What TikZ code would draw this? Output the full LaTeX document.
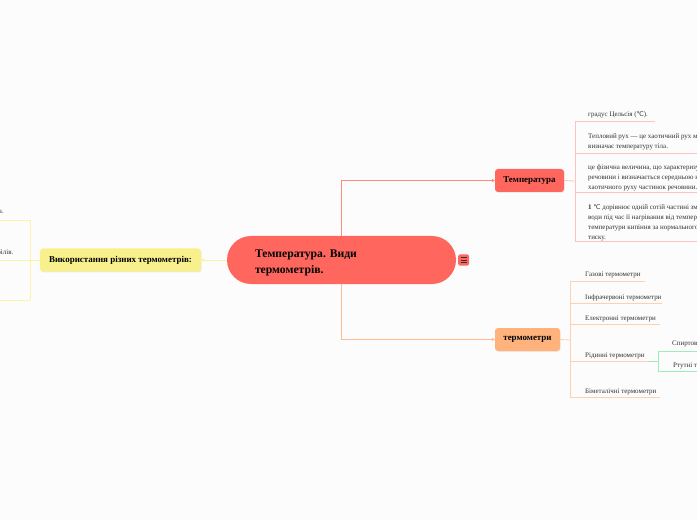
\documentclass[tikz,border=0pt]{standalone}
\usepackage{fontspec}
\setmainfont{Liberation Serif}
\newfontfamily\symfont{DejaVu Sans}
\newcommand{\degC}{{\symfont\fontsize{6.5}{10}\selectfont ℃}}
\usetikzlibrary{shadows,arrows.meta,calc}
\definecolor{bg}{HTML}{FCFCFC}
\definecolor{cred}{HTML}{FF675E}
\definecolor{corange}{HTML}{FFB27C}
\definecolor{cyellow}{HTML}{F8F08C}
\definecolor{lred}{HTML}{FF8A84}
\definecolor{lpink}{HTML}{FFC2BE}
\definecolor{lorange}{HTML}{FFD1AE}
\definecolor{morange}{HTML}{FFBC8E}
\definecolor{lyellow}{HTML}{FAF4A6}
\definecolor{lgreen}{HTML}{9CEDBE}
\definecolor{txt}{HTML}{333333}
\tikzset{
  shad/.style={drop shadow={opacity=0.12,shadow xshift=0.6pt,shadow yshift=-1pt}},
  centre/.style={fill=cred,rounded corners=24bp,minimum height=48bp,text width=173bp,
    inner xsep=28bp,inner ysep=0pt,align=left,font=\bfseries\fontsize{11.7}{16}\selectfont,text=black},
  topic/.style={shad,rounded corners=3bp,minimum height=23bp,inner sep=0pt,
    font=\bfseries\fontsize{9}{10}\selectfont,text=black},
  item/.style={anchor=north west,inner sep=0pt,align=left,text=txt,
    font=\fontsize{7}{10}\selectfont},
  litem/.style={anchor=north east,inner sep=0pt,align=right,text=txt,
    font=\fontsize{7}{10}\selectfont},
  tip/.style={-{Triangle[length=3bp,width=3.5bp]}},
}
\begin{document}
\frenchspacing
\begin{tikzpicture}[x=1bp,y=-1bp]
\useasboundingbox (0,0) rectangle (697,520);
\fill[bg] (0,0) rectangle (697,520);
\clip (0,0) rectangle (697,520);

% main nodes
\node[centre] (c) at (341.5,260) {\rule{0pt}{13bp}Температура. Види\\термометрів.};
\node[topic,fill=cred,minimum width=69bp] (temp) at (529.5,180.5) {Температура};
\node[topic,fill=corange,minimum width=65bp] (therm) at (527.5,339.5) {термометри};
\node[topic,fill=cyellow,minimum width=161bp] (use) at (120.5,260) {Використання різних термометрів:};

% icon
\node[fill=cred,rounded corners=1.5bp,minimum width=11bp,minimum height=11bp,inner sep=0pt] (ic) at (463.5,260) {};
\foreach \d in {-2.5,0,2.5}
  \draw[black!80,line width=1bp] ($(ic.center)+(-3,\d)$) -- ($(ic.center)+(3,\d)$);

% connectors from centre
\draw[lred,line width=0.8bp,tip] (c.north) |- (temp.west);
\draw[morange,line width=0.8bp,tip] (c.south) |- (therm.west);
\draw[lyellow!80!cyellow,line width=0.8bp,tip] (c.west) -- (use.east);

% Temperature branch
\coordinate (tj) at (575,181);
\coordinate (ta) at (575,121);
\coordinate (tb) at (575,153);
\coordinate (tc) at (575,192);
\coordinate (td) at (575,241);
\draw[lpink,line width=0.8bp] (temp.east) -- (tj);
\draw[lpink,line width=0.8bp] (ta) -- (td);
\draw[lpink,line width=0.8bp] (ta) -- (655,121);
\draw[lpink,line width=0.8bp] (tb) -- (697,153);
\draw[lpink,line width=0.8bp] (tc) -- (697,192);
\draw[lpink,line width=0.8bp] (td) -- (697,241);

\node[item] (t1) at (588,111.5) {градус Цельсія (\degC).};
\node[item] (t2) at (588,133.5) {Тепловий рух — це хаотичний рух молекул, який\\визначає температуру тіла.};
\node[item] (t3) at (588,164.5) {це фізична величина, що характеризує ступінь нагрітості\\речовини і визначається середньою кінетичною енергією\\хаотичного руху частинок речовини.};
\node[item] (t4) at (588,204.5) {\textbf{1} \degC\ дорівнює одній сотій частині зміни температури\\води під час її нагрівання від температури плавлення льоду до\\температури кипіння за нормального атмосферного\\тиску.};

% Thermometer branch
\coordinate (rj) at (570,340);
\coordinate (ra) at (570,281);
\coordinate (rb) at (570,303);
\coordinate (rc) at (570,324);
\coordinate (rd) at (570,361);
\coordinate (re) at (570,397);
\draw[lorange,line width=0.8bp] (therm.east) -- (rj);
\draw[lorange,line width=0.8bp] (ra) -- (re);
\draw[lorange,line width=0.8bp] (ra) -- (645,281);
\draw[lorange,line width=0.8bp] (rb) -- (662,303);
\draw[lorange,line width=0.8bp] (rc) -- (660,324);
\coordinate (rg) at (648,361);
\draw[lorange,line width=0.8bp] (rd) -- (rg);
\draw[lorange,line width=0.8bp] (re) -- (660,397);

\node[item] (r1) at (585,272) {Газові термометри};
\node[item] (r2) at (585,294) {Інфрачервоні термометри};
\node[item] (r3) at (585,316) {Електронні термометри};
\node[item] (r4) at (585,353) {Рідинні термометри};
\node[item] (r5) at (585,389) {Біметалічні термометри};

% liquid sub-branch
\coordinate (gj) at (658,361);
\coordinate (ga) at (658,351);
\coordinate (gb) at (658,371);
\draw[lgreen,line width=0.8bp] (rg) -- (gj);
\draw[lgreen,line width=0.8bp] (ga) -- (gb);
\draw[lgreen,line width=0.8bp] (ga) -- (697,351);
\draw[lgreen,line width=0.8bp] (gb) -- (697,371);
\node[item] (g1) at (672,340.5) {Спиртові термометри};
\node[item] (g2) at (673,362.5) {Ртутні термометри};

% usage branch
\coordinate (uj) at (30,260);
\coordinate (ua) at (30,220);
\coordinate (ub) at (30,300);
\draw[lyellow,line width=0.8bp] (use.west) -- (uj);
\draw[lyellow,line width=0.8bp] (ua) -- (ub);
\draw[lyellow,line width=0.8bp] (ua) -- (0,220);
\draw[lyellow,line width=0.8bp] (uj) -- (0,260);
\draw[lyellow,line width=0.8bp] (ub) -- (0,300);
\node[litem] (u1) at (4,209) {Медичні термометри використовують для вимірювання температури тіла.};
\node[litem] (u2) at (13.5,249) {Біметалічні термометри використовують у системах охолодження автомобілів.};
\end{tikzpicture}
\end{document}
